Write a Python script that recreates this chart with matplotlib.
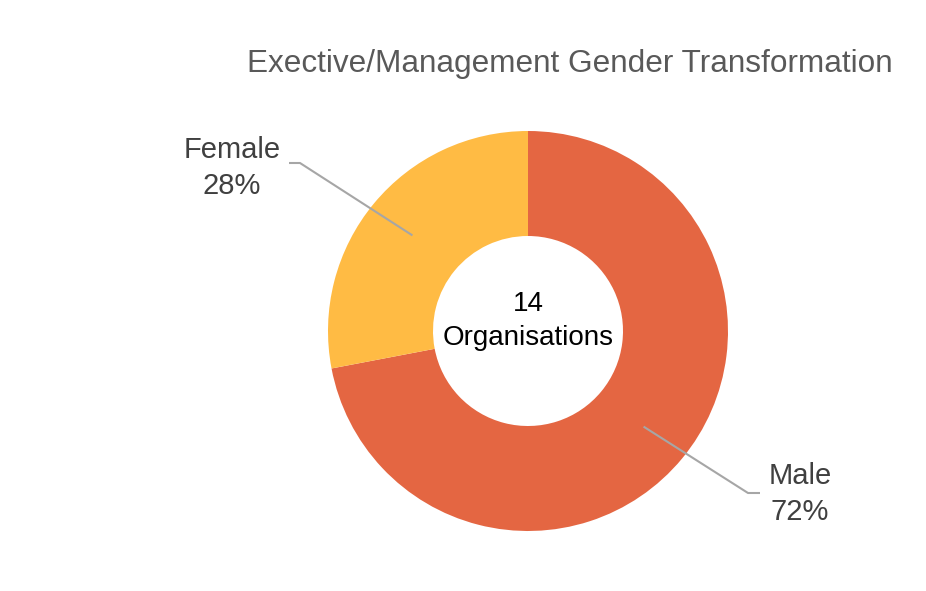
import numpy as np
import matplotlib
matplotlib.use("Agg")
import matplotlib.pyplot as plt

categories = ["Male", "Female"]
shares = [72, 28]
colors = ["#E46642", "#FFBB44"]
title = "Exective/Management Gender Transformation"
center_text = "14\nOrganisations"

plt.rcParams['font.family'] = ['Liberation Sans', 'DejaVu Sans']

W, H = 926, 591
fig = plt.figure(figsize=(W / 100, H / 100), dpi=100)
ax = fig.add_axes([0, 0, 1, 1])

cx, cy, R = 528, H - 331, 200
width = 105
wedges, _ = ax.pie(shares, colors=colors, startangle=90, counterclock=False,
                   radius=R, center=(cx, cy), frame=True,
                   wedgeprops=dict(width=width, linewidth=0))
ax.set_xlim(0, W)
ax.set_ylim(0, H)
ax.set_aspect('equal')
ax.axis('off')

ax.text(cx, H - 321, center_text, ha='center', va='center', fontsize=20,
        color='#000000', linespacing=1.4)

fig.text(570 / W, 1 - 64 / H, title, ha='center', va='center',
         fontsize=22.7, color='#595959')

# labels with leader lines
label_pos = {"Male": (800, 494), "Female": (232, 168)}
elbows = {"Male": [(748, 493), (760, 493)], "Female": [(300, 163), (289, 163)]}
for w, cat, s in zip(wedges, categories, shares):
    ang = np.deg2rad((w.theta1 + w.theta2) / 2)
    px = cx + 150 * np.cos(ang)
    py = cy + 150 * np.sin(ang)
    pts = [(px, py)] + [(x, H - y) for x, y in elbows[cat]]
    xs, ys = zip(*pts)
    ax.plot(xs, ys, color='#A6A6A6', lw=1.5, solid_capstyle='butt')
    lx, ly = label_pos[cat]
    ax.text(lx, H - ly, f"{cat}\n{s}%", ha='center', va='center', fontsize=21,
            color='#404040', linespacing=1.35)

fig.savefig("out.png", dpi=100, facecolor='white')
